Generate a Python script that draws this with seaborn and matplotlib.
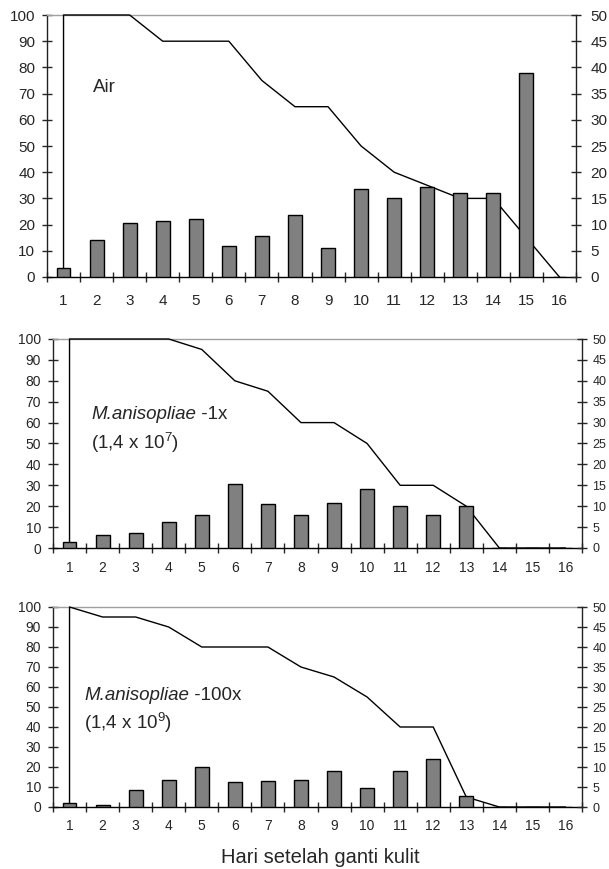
import numpy as np
import matplotlib
matplotlib.use("Agg")
import matplotlib.pyplot as plt
import seaborn as sns

# hari setelah ganti kulit
days = list(range(1, 17))

# bars (left axis, %) and survival line (left axis, %)
air_bars = [3.5, 14, 20.5, 21.5, 22, 12, 15.5, 23.5, 11, 33.5, 30, 34.5, 32, 32, 78, 0]
air_line = [100, 100, 100, 90, 90, 90, 75, 65, 65, 50, 40, 35, 30, 30, 15, 0]

ma1_bars = [3, 6, 7, 12.5, 16, 30.5, 21, 16, 21.5, 28, 20, 16, 20, 0, 0, 0]
ma1_line = [100, 100, 100, 100, 95, 80, 75, 60, 60, 50, 30, 30, 20, 0, 0, 0]

ma100_bars = [2, 1, 8.5, 13.5, 20, 12.5, 13, 13.5, 18, 9.5, 18, 24, 5.5, 0, 0, 0]
ma100_line = [100, 95, 95, 90, 80, 80, 80, 70, 65, 55, 40, 40, 5, 0, 0, 0]

left_ticks = list(range(0, 101, 10))
right_ticks = list(range(0, 51, 5))

sns.set_style("ticks")
plt.rcParams['font.family'] = ['Liberation Sans', 'DejaVu Sans']
plt.rcParams['mathtext.fontset'] = 'custom'
plt.rcParams['mathtext.rm'] = 'Liberation Sans'
plt.rcParams['mathtext.it'] = 'Liberation Sans:italic'

W, H = 609, 869
fig = plt.figure(figsize=(W / 100, H / 100), dpi=100)


def panel(px_left, px_right, px_top, px_bottom, bars, line, fs, xpad, rfs, rpad):
    ax = fig.add_axes([px_left / W, 1 - px_bottom / H,
                       (px_right - px_left) / W, (px_bottom - px_top) / H])
    # line starts from the baseline at day 1
    lx = [days[0]] + days
    ly = [0] + line
    sns.lineplot(x=lx, y=ly, sort=False, estimator=None, color='black',
                 lw=1.0, ax=ax, zorder=2.6, clip_on=False)
    sns.barplot(x=days, y=bars, native_scale=True, width=0.42, color='#808080',
                saturation=1, edgecolor='black', linewidth=1.0, ax=ax, zorder=3)
    ax.set_xlim(0.5, 16.5)
    ax.set_ylim(0, 100)
    ax.set_xticks(days)
    ax.set_xticklabels([str(d) for d in days], fontsize=fs)
    ax.set_xticks(np.arange(0.5, 17, 1), minor=True)
    ax.tick_params(axis='x', which='major', length=0, pad=xpad)
    ax.tick_params(axis='x', which='minor', direction='inout', length=7, width=1)
    ax.set_yticks(left_ticks)
    ax.set_yticklabels([str(t) for t in left_ticks], fontsize=fs)
    ax.tick_params(axis='y', direction='inout', length=7, width=1, pad=5)
    ax.set_xlabel('')
    ax.set_ylabel('')
    ax.spines['top'].set_color('#a0a0a0')
    ax.spines['left'].set_color('#222222')
    ax.spines['right'].set_visible(False)
    ax.spines['bottom'].set_color('black')
    tw = ax.twinx()
    tw.set_ylim(0, 50)
    tw.set_yticks(right_ticks)
    tw.set_yticklabels([str(t) for t in right_ticks], fontsize=rfs)
    tw.tick_params(axis='y', direction='inout', length=7, width=1, pad=rpad)
    for name in ('top', 'bottom', 'left'):
        tw.spines[name].set_visible(False)
    tw.spines['right'].set_visible(True)
    tw.spines['right'].set_color('#222222')
    for a in (ax, tw):
        for s in a.spines.values():
            s.set_linewidth(1.0)
    return ax


def label(ax, x, y1, y2, name, dose, sup, fs):
    t = ax.text(x, y1, name, fontsize=fs, style='italic', va='baseline', ha='left')
    ax.annotate(' ' + dose, xy=(1, 0), xycoords=t, fontsize=fs, va='bottom', ha='left')
    ax.text(x, y2, r'(1,4 x 10$^{\mathregular{%s}}$)' % sup, fontsize=fs,
            va='baseline', ha='left')


ax1 = panel(47, 576, 15, 277, air_bars, air_line, 11, 12, 11, 7)
ax1.text(1.89, 70.6, 'Air', fontsize=13.5, va='baseline', ha='left')

ax2 = panel(53, 582, 339, 548, ma1_bars, ma1_line, 10, 9, 9, 4)
label(ax2, 1.65, 61.5, 47.5, 'M.anisopliae', '-1x', '7', 13.5)

ax3 = panel(53, 582, 607, 807, ma100_bars, ma100_line, 10, 9, 9, 4)
label(ax3, 1.44, 53.5, 39, 'M.anisopliae', '-100x', '9', 13.5)

fig.text(320 / W, 1 - 863 / H, 'Hari setelah ganti kulit', fontsize=14.5,
         ha='center', va='baseline')

fig.savefig('out.png', dpi=100)
